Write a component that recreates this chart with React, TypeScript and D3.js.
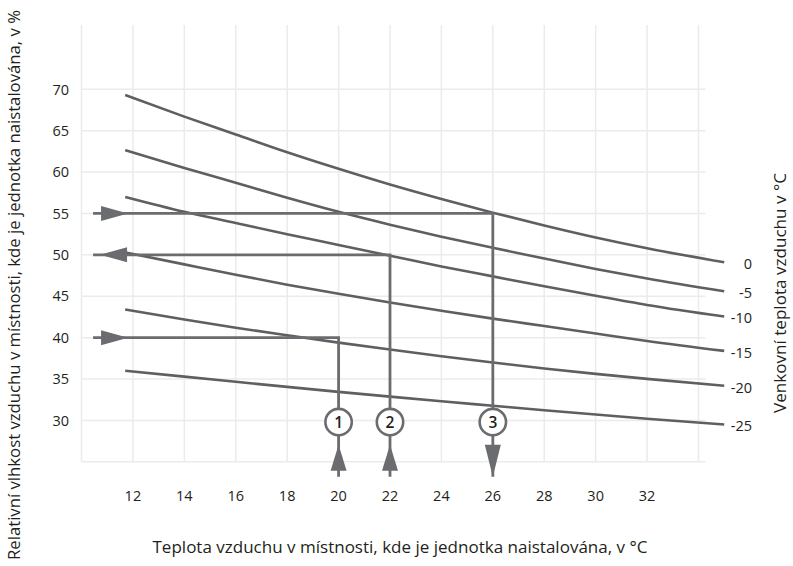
import React, { useEffect, useRef } from 'react';
import * as d3 from 'd3';

// room temperature (x) at which the curves were read
const roomTemps = [11.7, 14, 16, 18, 20, 22, 24, 26, 28, 30, 32, 35];

// relative humidity limit for each outdoor temperature
const outdoor0 = [69.3, 66.7, 64.55, 62.4, 60.4, 58.5, 56.75, 55.1, 53.55, 52.1, 50.8, 49.1];
const outdoorM5 = [62.65, 60.5, 58.7, 56.9, 55.2, 53.65, 52.2, 50.85, 49.55, 48.3, 47.15, 45.6];
const outdoorM10 = [57.0, 55.2, 53.85, 52.5, 51.2, 49.9, 48.6, 47.4, 46.2, 45.05, 43.95, 42.55];
const outdoorM15 = [50.3, 48.85, 47.6, 46.4, 45.3, 44.25, 43.25, 42.3, 41.4, 40.5, 39.6, 38.4];
const outdoorM20 = [43.4, 42.2, 41.2, 40.28, 39.4, 38.56, 37.76, 37.0, 36.28, 35.62, 35.02, 34.18];
const outdoorM25 = [36.0, 35.29, 34.67, 34.05, 33.45, 32.87, 32.31, 31.77, 31.23, 30.71, 30.21, 29.5];

const seriesLabels = ['0', '-5', '-10', '-15', '-20', '-25'];
const series = [outdoor0, outdoorM5, outdoorM10, outdoorM15, outdoorM20, outdoorM25];

const xTicks = [12, 14, 16, 18, 20, 22, 24, 26, 28, 30, 32];
const yTicks = [30, 35, 40, 45, 50, 55, 60, 65, 70];

// worked examples
const exampleIds = ['1', '2', '3'];
const exampleTemps = [20, 22, 26];
const exampleHumidity = [40, 50, 55];
const humidityArrowIn = [true, false, true]; // arrow on the % side points into the chart
const tempArrowUp = [true, true, false]; // arrow under the circle points up

const xTitle = 'Teplota vzduchu v místnosti, kde je jednotka naistalována, v °C';
const yTitle = 'Relativní vlhkost vzduchu v místnosti, kde je jednotka naistalována, v %';
const rightTitle = 'Venkovní teplota vzduchu v °C';

const App: React.FC = () => {
  const svgRef = useRef<SVGSVGElement>(null);

  useEffect(() => {
    if (!svgRef.current) return;
    const svg = d3.select(svgRef.current);
    svg.selectAll('*').remove();

    const font = "'Open Sans', 'Noto Sans', sans-serif";
    const textColor = '#231f20';
    const curveColor = '#5f5f61';
    const arrowColor = '#6b6c6f';
    const gridColor = '#ebebeb';

    const x = d3.scaleLinear().domain([10, 34]).range([81.5, 698.5]);
    const y = d3.scaleLinear().domain([25, 70]).range([461.8, 89.3]);

    // grid
    const grid = svg.append('g');
    d3.range(10, 35, 2).forEach(v => {
      grid.append('line')
        .attr('x1', x(v)).attr('x2', x(v))
        .attr('y1', 25).attr('y2', y(25))
        .attr('stroke', gridColor).attr('stroke-width', 1.5);
    });
    d3.range(25, 71, 5).forEach(v => {
      grid.append('line')
        .attr('x1', x(10)).attr('x2', x(34) + 7)
        .attr('y1', y(v)).attr('y2', y(v))
        .attr('stroke', gridColor).attr('stroke-width', 1.5);
    });

    // tick labels
    svg.append('g').selectAll('text').data(yTicks).join('text')
      .attr('x', x(10) - 12.5)
      .attr('y', d => y(d))
      .attr('dy', '0.36em')
      .attr('text-anchor', 'end')
      .attr('font-family', font).attr('font-size', 14.5)
      .attr('fill', textColor)
      .text(d => d);

    svg.append('g').selectAll('text').data(xTicks).join('text')
      .attr('x', d => x(d))
      .attr('y', 501)
      .attr('text-anchor', 'middle')
      .attr('font-family', font).attr('font-size', 14.5)
      .attr('fill', textColor)
      .text(d => d);

    // curves
    const line = d3.line<number>()
      .x((d, i) => x(roomTemps[i]))
      .y(d => y(d))
      .curve(d3.curveMonotoneX);

    series.forEach((s, k) => {
      svg.append('path')
        .attr('d', line(s))
        .attr('fill', 'none')
        .attr('stroke', curveColor)
        .attr('stroke-width', 2.6);

      svg.append('text')
        .attr('x', 752)
        .attr('y', y(s[s.length - 1]) + 1.5)
        .attr('dy', '0.36em')
        .attr('text-anchor', 'end')
        .attr('font-family', font).attr('font-size', 14.5)
        .attr('fill', textColor)
        .text(seriesLabels[k]);
    });

    // worked examples
    const startX = x(10.45);
    const bottomY = y(23.2);
    const circleY = y(29.8);
    const ex = svg.append('g');
    exampleTemps.forEach((t, i) => {
      const cx = x(t);
      const hy = y(exampleHumidity[i]);

      ex.append('path')
        .attr('d', `M${startX},${hy}H${cx}V${bottomY}`)
        .attr('fill', 'none')
        .attr('stroke', arrowColor)
        .attr('stroke-width', 2.8);

      // arrow on the humidity side
      const hw = 7.5;
      const hPts = humidityArrowIn[i]
        ? [[startX + 8, hy - hw], [startX + 35, hy], [startX + 8, hy + hw]]
        : [[startX + 34, hy - hw], [startX + 7, hy], [startX + 34, hy + hw]];
      ex.append('polygon')
        .attr('points', hPts.map(p => p.join(',')).join(' '))
        .attr('fill', arrowColor);

      // arrow on the room temperature side
      const vw = 8;
      const vPts = tempArrowUp[i]
        ? [[cx - vw, bottomY - 6], [cx, bottomY - 32], [cx + vw, bottomY - 6]]
        : [[cx - vw, bottomY - 32], [cx, bottomY], [cx + vw, bottomY - 32]];
      ex.append('polygon')
        .attr('points', vPts.map(p => p.join(',')).join(' '))
        .attr('fill', arrowColor);

      ex.append('circle')
        .attr('cx', cx).attr('cy', circleY).attr('r', 13.2)
        .attr('fill', '#fff')
        .attr('stroke', arrowColor)
        .attr('stroke-width', 2.6);

      ex.append('text')
        .attr('x', cx).attr('y', circleY)
        .attr('dy', '0.36em')
        .attr('text-anchor', 'middle')
        .attr('font-family', font).attr('font-size', 15.5)
        .attr('font-weight', 600)
        .attr('fill', textColor)
        .text(exampleIds[i]);
    });

    // axis titles
    svg.append('text')
      .attr('x', 400).attr('y', 553)
      .attr('text-anchor', 'middle')
      .attr('font-family', font).attr('font-size', 16.5)
      .attr('textLength', 495).attr('lengthAdjust', 'spacingAndGlyphs')
      .attr('fill', textColor)
      .text(xTitle);

    svg.append('text')
      .attr('transform', 'translate(20,285) rotate(-90)')
      .attr('text-anchor', 'middle')
      .attr('font-family', font).attr('font-size', 16.5)
      .attr('textLength', 550).attr('lengthAdjust', 'spacingAndGlyphs')
      .attr('fill', textColor)
      .text(yTitle);

    svg.append('text')
      .attr('transform', 'translate(786,293) rotate(-90)')
      .attr('text-anchor', 'middle')
      .attr('font-family', font).attr('font-size', 16.5)
      .attr('textLength', 240).attr('lengthAdjust', 'spacingAndGlyphs')
      .attr('fill', textColor)
      .text(rightTitle);
  }, []);

  return (
    <svg
      ref={svgRef}
      width={793}
      height={566}
      style={{ position: 'absolute', left: 0, top: 0, background: '#fff' }}
    />
  );
};

export default App;
